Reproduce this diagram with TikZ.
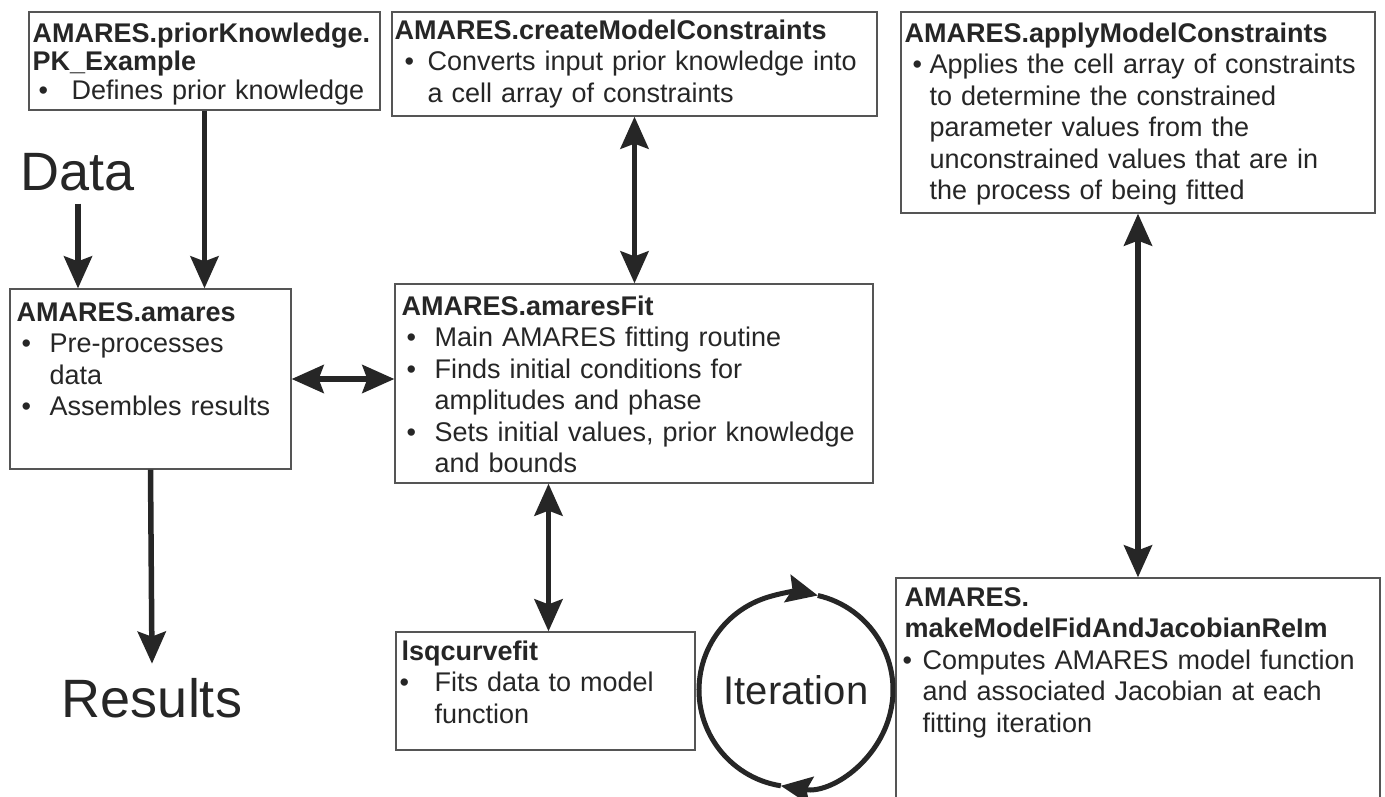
\documentclass[tikz,border=0pt]{standalone}
\usepackage{fontspec}
\setmainfont{Liberation Sans}
\usetikzlibrary{arrows.meta,fit}

\definecolor{ink}{HTML}{262626}
\definecolor{rim}{HTML}{555555}

% bold routine name
\newcommand\heading[1]{\noindent{\bfseries #1}\par}
% bullet entry: [bullet offset][text indent]{text}
\NewDocumentCommand\entry{O{5pt}O{33pt}m}{%
  \par\hangindent=#2\hangafter=1\noindent
  \makebox[#2][l]{\hspace{#1}\textbullet}#3\par}

\begin{document}
\begin{tikzpicture}[x=1pt,y=-1pt,
  every node/.style={text=ink},
  frame/.style={draw=rim, line width=1.3pt, inner sep=0pt},
  copy/.style={anchor=north west, inner sep=0pt, text width=#1,
    font=\fontsize{27}{31.5}\selectfont,
    execute at begin node={\raggedright\setlength\baselineskip{31.5pt}}},
  bigword/.style={inner sep=0pt, anchor=base, font=\fontsize{54}{60}\selectfont},
  flow/.style={draw=ink, line width=5.5pt, -{Stealth[length=32pt,width=28pt,inset=5pt]}},
  both/.style={draw=ink, line width=5.5pt,
    {Stealth[length=32pt,width=28pt,inset=5pt]}-{Stealth[length=32pt,width=28pt,inset=5pt]}},
  turn/.style={draw=ink, line width=5pt, -{Stealth[length=31pt,width=28pt,inset=5pt]}}]

\fill[white] (0,0) rectangle (1385,797);
\useasboundingbox (0,0) rectangle (1385,797);

% routine boxes
\node[frame, fit={(29,12)(380,110)}] (pk) {};
\node[frame, fit={(392,12)(877,116)}] (cmc) {};
\node[frame, fit={(901,12)(1375,213)}] (amc) {};
\node[frame, fit={(10,289)(291,469)}] (am) {};
\node[frame, fit={(395,284)(873,483)}] (fitbox) {};
\node[frame, fit={(396,632)(695,750)}] (lsq) {};
\node[frame, fit={(896,578)(1380,840)}] (mm) {};

% box contents
\node[copy=345pt] (pkText) at ([xshift=4pt,yshift=-11pt]pk.north west)
  {\setlength\baselineskip{28.5pt}\heading{AMARES.priorKnowledge.\newline PK\_Example}\entry[6pt][39pt]{Defines prior knowledge}};
\node[copy=480pt] (cmcText) at ([xshift=3pt,yshift=-8pt]cmc.north west)
  {\heading{AMARES.createModelConstraints}\entry[10pt][33pt]{Converts input prior knowledge into\newline a cell array of constraints}};
\node[copy=470pt] (amcText) at ([xshift=4pt,yshift=-11pt]amc.north west)
  {\heading{AMARES.applyModelConstraints}\entry[8pt][25pt]{Applies the cell array of constraints\newline to determine the constrained\newline parameter values from the\newline unconstrained values that are in\newline the process of being fitted}};
\node[copy=275pt] (amText) at ([xshift=7pt,yshift=-14pt]am.north west)
  {\heading{AMARES.amares}\entry[5pt][33pt]{Pre-processes\newline data}\entry[5pt][33pt]{Assembles results}};
\node[copy=470pt] (fitText) at ([xshift=7pt,yshift=-12pt]fitbox.north west)
  {\heading{AMARES.amaresFit}\entry[5pt][33pt]{Main AMARES fitting routine}%
   \entry[5pt][33pt]{Finds initial conditions for\newline amplitudes and phase}%
   \entry[5pt][33pt]{Sets initial values, prior knowledge\newline and bounds}};
\node[copy=290pt] (lsqText) at ([xshift=6pt,yshift=-9pt]lsq.north west)
  {\heading{lsqcurvefit}\entry[-2pt][33pt]{Fits data to model\newline function}};
\node[copy=475pt] (mmText) at ([xshift=9pt,yshift=-10pt]mm.north west)
  {\heading{AMARES.\newline makeModelFidAndJacobianReIm}\entry[-2pt][18pt]{Computes AMARES model function\newline and associated Jacobian at each\newline fitting iteration}};

% inputs and outputs
\node[bigword] (data) at (78,191) {Data};
\node[bigword] (results) at (152,717) {Results};

% connectors
\draw[flow] ([yshift=-12pt]data.south) -- (data.south |- am.north);
\draw[flow] (pk.south) -- (pk.south |- am.north);
\draw[flow] (am.south) -- ([yshift=14pt]results.north);
\draw[both] (am.east) -- (am.east -| fitbox.west);
\draw[both] (cmc.south) -- (cmc.south |- fitbox.north);
\draw[both] ([xshift=3pt]lsq.north) -- ([xshift=3pt]lsq.north |- fitbox.south);
\draw[both] (amc.south) -- (amc.south |- mm.north);

% iteration loop
\node[circle, minimum size=194pt, inner sep=0pt, font=\fontsize{40}{44}\selectfont] (iter) at (796,690) {Iteration};
\begin{scope}[shift={(iter.center)}, x=1pt, y=1pt]
  \draw[turn] (261:97) arc[start angle=261, end angle=77, radius=97];
  \draw[turn] (77:97) arc[start angle=77, end angle=-99, radius=97];
\end{scope}
\end{tikzpicture}
\end{document}
